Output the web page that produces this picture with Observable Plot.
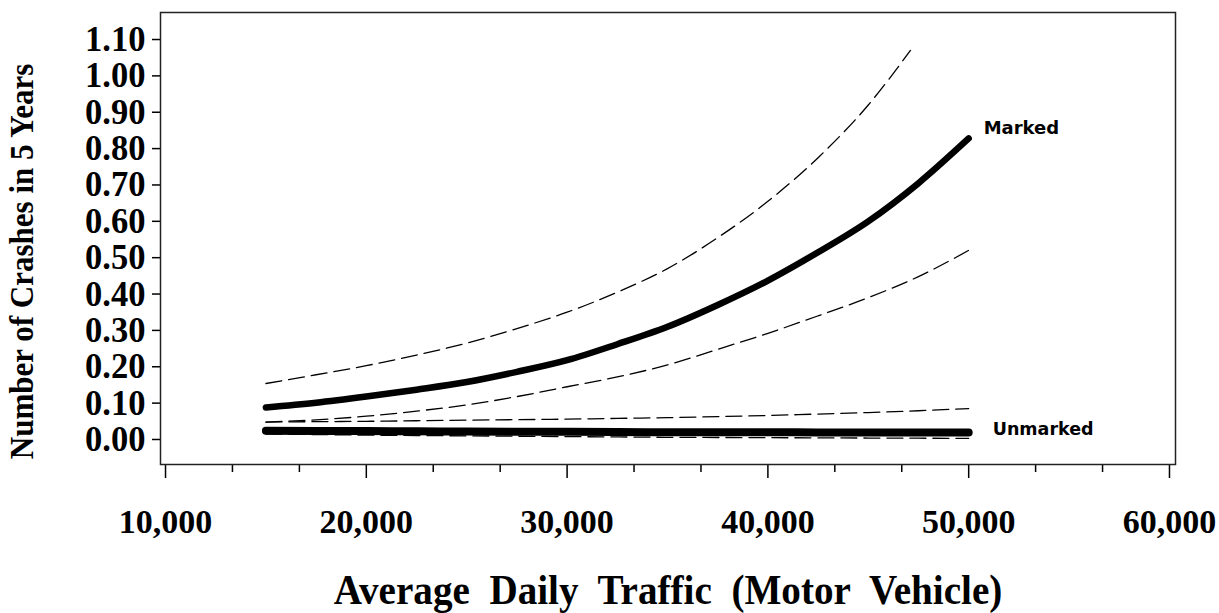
<!DOCTYPE html>
<html><head><meta charset="utf-8">
<script src="https://cdn.jsdelivr.net/npm/d3@7"></script>
<script src="https://cdn.jsdelivr.net/npm/@observablehq/plot@0.6"></script>
<style>body{margin:0;background:#fff}</style>
</head><body><div id="chart"></div>
<script>
// Average daily traffic (x)
const adt = [15000, 17500, 20000, 22500, 25000, 27500, 30000, 32500, 35000, 37500, 40000, 42500, 45000, 47500, 50000];
const adtUpperMarked = [15000, 17500, 20000, 22500, 25000, 27500, 30000, 32500, 35000, 37500, 40000, 42500, 45000, 47100];
// Marked crosswalks
const markedMean  = [0.088, 0.101, 0.118, 0.137, 0.158, 0.186, 0.218, 0.262, 0.310, 0.370, 0.437, 0.515, 0.600, 0.705, 0.828];
const markedUpper = [0.154, 0.178, 0.203, 0.232, 0.265, 0.305, 0.350, 0.405, 0.470, 0.555, 0.655, 0.775, 0.920, 1.070];
const markedLower = [0.048, 0.054, 0.064, 0.078, 0.095, 0.118, 0.145, 0.172, 0.205, 0.248, 0.292, 0.340, 0.390, 0.448, 0.520];
// Unmarked crosswalks
const unmarkedMean  = [0.024, 0.0235, 0.023, 0.0225, 0.022, 0.0215, 0.021, 0.0205, 0.020, 0.020, 0.020, 0.0195, 0.019, 0.019, 0.019];
const unmarkedUpper = [0.048, 0.049, 0.050, 0.0515, 0.053, 0.0545, 0.056, 0.058, 0.060, 0.063, 0.066, 0.070, 0.074, 0.079, 0.085];
const unmarkedLower = [0.015, 0.0135, 0.012, 0.011, 0.010, 0.009, 0.008, 0.007, 0.006, 0.0055, 0.005, 0.0045, 0.004, 0.0035, 0.003];
// Ticks and labels
const yTicks = [0.00, 0.10, 0.20, 0.30, 0.40, 0.50, 0.60, 0.70, 0.80, 0.90, 1.00, 1.10];
const xMajorTicks = [10000, 20000, 30000, 40000, 50000, 60000];
const xMinorTicks = [13333, 16667, 23333, 26667, 33333, 36667, 43333, 46667, 53333, 56667];
const seriesLabels = ["Marked", "Unmarked"];
const yTitle = "Number of Crashes in 5 Years";
const xTitle = "Average  Daily  Traffic  (Motor  Vehicle)";

const toRows = (xs, ys) => xs.map((x, i) => ({x, y: ys[i]}));
const mMean = toRows(adt, markedMean);
const mUp = toRows(adtUpperMarked, markedUpper);
const mLo = toRows(adt, markedLower);
const uMean = toRows(adt, unmarkedMean);
const uUp = toRows(adt, unmarkedUpper);
const uLo = toRows(adt, unmarkedLower);

const dash = "16,7";
const serif = "'Liberation Serif', 'Times New Roman', serif";
const sans = "'DejaVu Sans', sans-serif";

const chart = Plot.plot({
  width: 1219,
  height: 613,
  marginLeft: 160,
  marginRight: 44,
  marginTop: 12,
  marginBottom: 149,
  style: {fontFamily: serif, fontWeight: "bold", background: "#fff", color: "#000"},
  x: {domain: [9750, 60300]},
  y: {domain: [-0.0688, 1.1743]},
  marks: [
    Plot.axisY({ticks: yTicks, tickFormat: d3.format(".2f"), tickSize: 8, tickPadding: 7, fontSize: 36, fontWeight: "bold", label: null, stroke: "#000", strokeWidth: 1.5}),
    Plot.axisX({ticks: xMajorTicks, tickFormat: d3.format(","), tickSize: 14, tickPadding: 30, fontSize: 34, fontWeight: "bold", label: null, stroke: "#000", strokeWidth: 1.5}),
    Plot.axisX({ticks: xMinorTicks, tickFormat: () => null, tickSize: 8, label: null, stroke: "#000", strokeWidth: 1.5}),
    Plot.frame({stroke: "#222", strokeWidth: 1.5}),
    Plot.line(mUp, {x: "x", y: "y", stroke: "#000", strokeWidth: 1.3, strokeDasharray: dash, curve: "monotone-x"}),
    Plot.line(mLo, {x: "x", y: "y", stroke: "#000", strokeWidth: 1.3, strokeDasharray: dash, curve: "monotone-x"}),
    Plot.line(uUp, {x: "x", y: "y", stroke: "#000", strokeWidth: 1.3, strokeDasharray: dash, curve: "monotone-x"}),
    Plot.line(uLo, {x: "x", y: "y", stroke: "#000", strokeWidth: 1.3, strokeDasharray: dash, curve: "monotone-x"}),
    Plot.line(mMean, {x: "x", y: "y", stroke: "#000", strokeWidth: 6.5, strokeLinecap: "round", curve: "monotone-x"}),
    Plot.line(uMean, {x: "x", y: "y", stroke: "#000", strokeWidth: 8, strokeLinecap: "round", curve: "monotone-x"}),
    Plot.text([mMean[mMean.length - 1]], {x: "x", y: "y", text: () => seriesLabels[0], textAnchor: "start", dx: 15, dy: -10, fontFamily: sans, fontSize: 18, fontWeight: "bold", fill: "#000"}),
    Plot.text([uMean[uMean.length - 1]], {x: "x", y: "y", text: () => seriesLabels[1], textAnchor: "start", dx: 24, dy: -3, fontFamily: sans, fontSize: 17.5, fontWeight: "bold", fill: "#000"}),
    Plot.text([yTitle], {text: d => d, frameAnchor: "left", rotate: -90, textAnchor: "middle", lineAnchor: "middle", dx: -138, dy: 23, fontSize: 33, fontWeight: "bold", fontFamily: serif, fill: "#000"}),
    Plot.text([xTitle], {text: d => d, frameAnchor: "bottom", textAnchor: "middle", lineAnchor: "middle", dy: 126, fontSize: 43, fontWeight: "bold", fontFamily: serif, fill: "#000"})
  ]
});
document.getElementById("chart").appendChild(chart);

// Condense the serif glyphs slightly, as in the original
function squeezeOne(t, factor) {
  const w = t.getComputedTextLength();
  if (w > 0) {
    t.setAttribute("textLength", (w * factor).toFixed(1));
    t.setAttribute("lengthAdjust", "spacingAndGlyphs");
  }
}
chart.querySelectorAll('g[aria-label="y-axis tick label"] text').forEach(t => squeezeOne(t, 0.96));
chart.querySelectorAll('g[aria-label="text"] text').forEach(t => {
  if (t.textContent === yTitle) squeezeOne(t, 0.94);
  if (t.textContent === xTitle) squeezeOne(t, 0.91);
});
</script>
</body></html>
